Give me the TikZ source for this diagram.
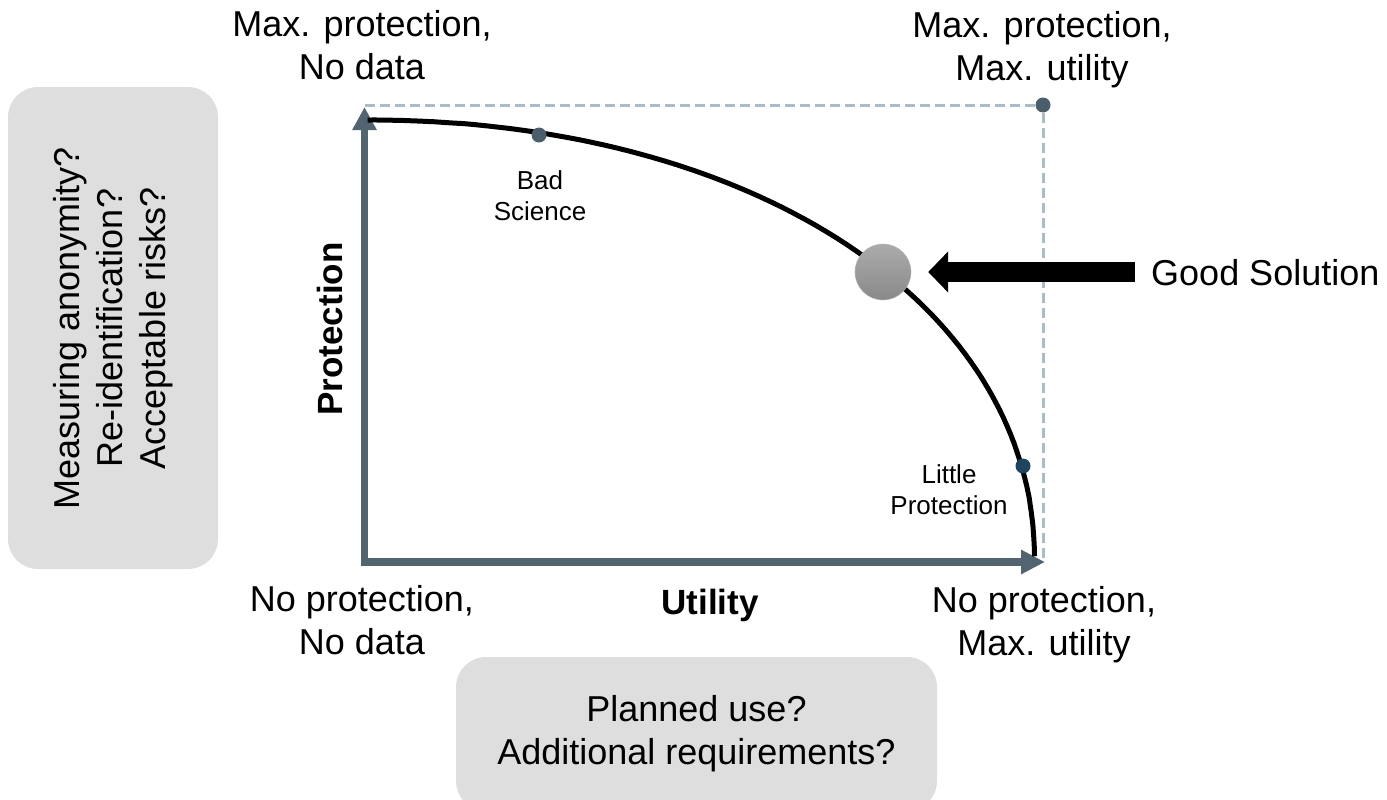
\documentclass[tikz,border=0pt]{standalone}
\usepackage{fontspec}
\setmainfont{Liberation Sans}
\usetikzlibrary{arrows.meta}
\definecolor{axiscol}{RGB}{82,100,112}
\definecolor{dashcol}{RGB}{170,189,199}
\definecolor{dotcol}{RGB}{74,94,107}
\definecolor{navycol}{RGB}{30,68,96}
\definecolor{boxcol}{RGB}{222,222,222}
\begin{document}
\begin{tikzpicture}[x=1pt,y=-1pt,
  big/.style={font=\fontsize{36}{43}\selectfont, align=center, inner sep=0pt},
  small/.style={font=\fontsize{26}{31}\selectfont, align=center, inner sep=0pt},
  axislabel/.style={font=\fontsize{35}{42}\selectfont\bfseries, inner sep=0pt},
  dotnode/.style={circle, fill=dotcol, minimum size=15pt, inner sep=0pt},
  qbox/.style={rounded corners=30pt, fill=boxcol, align=center, inner sep=0pt, font=\fontsize{36}{43}\selectfont},
  dashline/.style={draw=dashcol, line width=3pt, dash pattern=on 10pt off 5pt},
  axisline/.style={draw=axiscol, line width=7.5pt, line join=miter,
    {Triangle[length=23pt,width=23pt]}-{Triangle[length=24pt,width=23pt]}}]
\clip (0,0) rectangle (1387,800);

% question boxes
\node[qbox, rotate=90, minimum width=482pt, minimum height=210pt] (qleft) at (113,328)
  {Measuring anonymity?\\Re-identification?\\Acceptable risks?};
\node[qbox, minimum width=481pt, minimum height=154pt] (qbottom) at (696.5,734)
  {Planned use?\\Additional requirements?};

% dashed limits
\coordinate (tc) at (364.5,105);
\coordinate (dashend) at (1043,562);
\node[dotnode] (topdot) at (1043,105) {};
\draw[dashline] (tc) -- (topdot);
\draw[dashline] (topdot) -- (dashend);

% axes
\coordinate (O) at (364.5,562);
\coordinate (ytip) at (364.5,107);
\coordinate (xtip) at (1045,562);
\draw[axisline] (ytip) -- (O) -- (xtip);

% trade-off curve
\draw[line width=5pt] plot[domain=0.6:89.8, samples=160, smooth]
  ({364.5+670*pow(cos(\x),2/2.1)}, {562-442*pow(sin(\x),2/2.1)});

% points on the curve
\node[dotnode] (bad) at (539,135) {};
\node[dotnode, fill=navycol] (little) at (1023,466) {};
\node[circle, minimum size=56pt, inner sep=0pt, top color=black!33, bottom color=black!46,
  draw=black!30, line width=0.4pt] (circ) at (883,272) {};

% labels
\node[small] (badl) at (540,196) {Bad\\Science};
\node[small] (littlel) at (949,490) {Little\\Protection};
\node[big, anchor=base west] (good) at (1151,285) {Good Solution};
\draw[line width=20pt, -{Triangle[length=20pt,width=40pt]}, shorten <=16pt, shorten >=17pt]
  (good.west |- circ.east) -- (circ.east);

\node[axislabel, rotate=90, anchor=base] (plabel) at (342,329) {Protection};
\node[axislabel, anchor=base] (ulabel) at (710,614) {Utility};

\node[big] (tl) at (362,45.6) {Max. protection,\\No data};
\node[big] (tr) at (1042,49.4) {Max. protection,\\Max. utility};
\node[big] (bl) at (362,620.6) {No protection,\\No data};
\node[big] (br) at (1044,624.4) {No protection,\\Max. utility};
\end{tikzpicture}
\end{document}
